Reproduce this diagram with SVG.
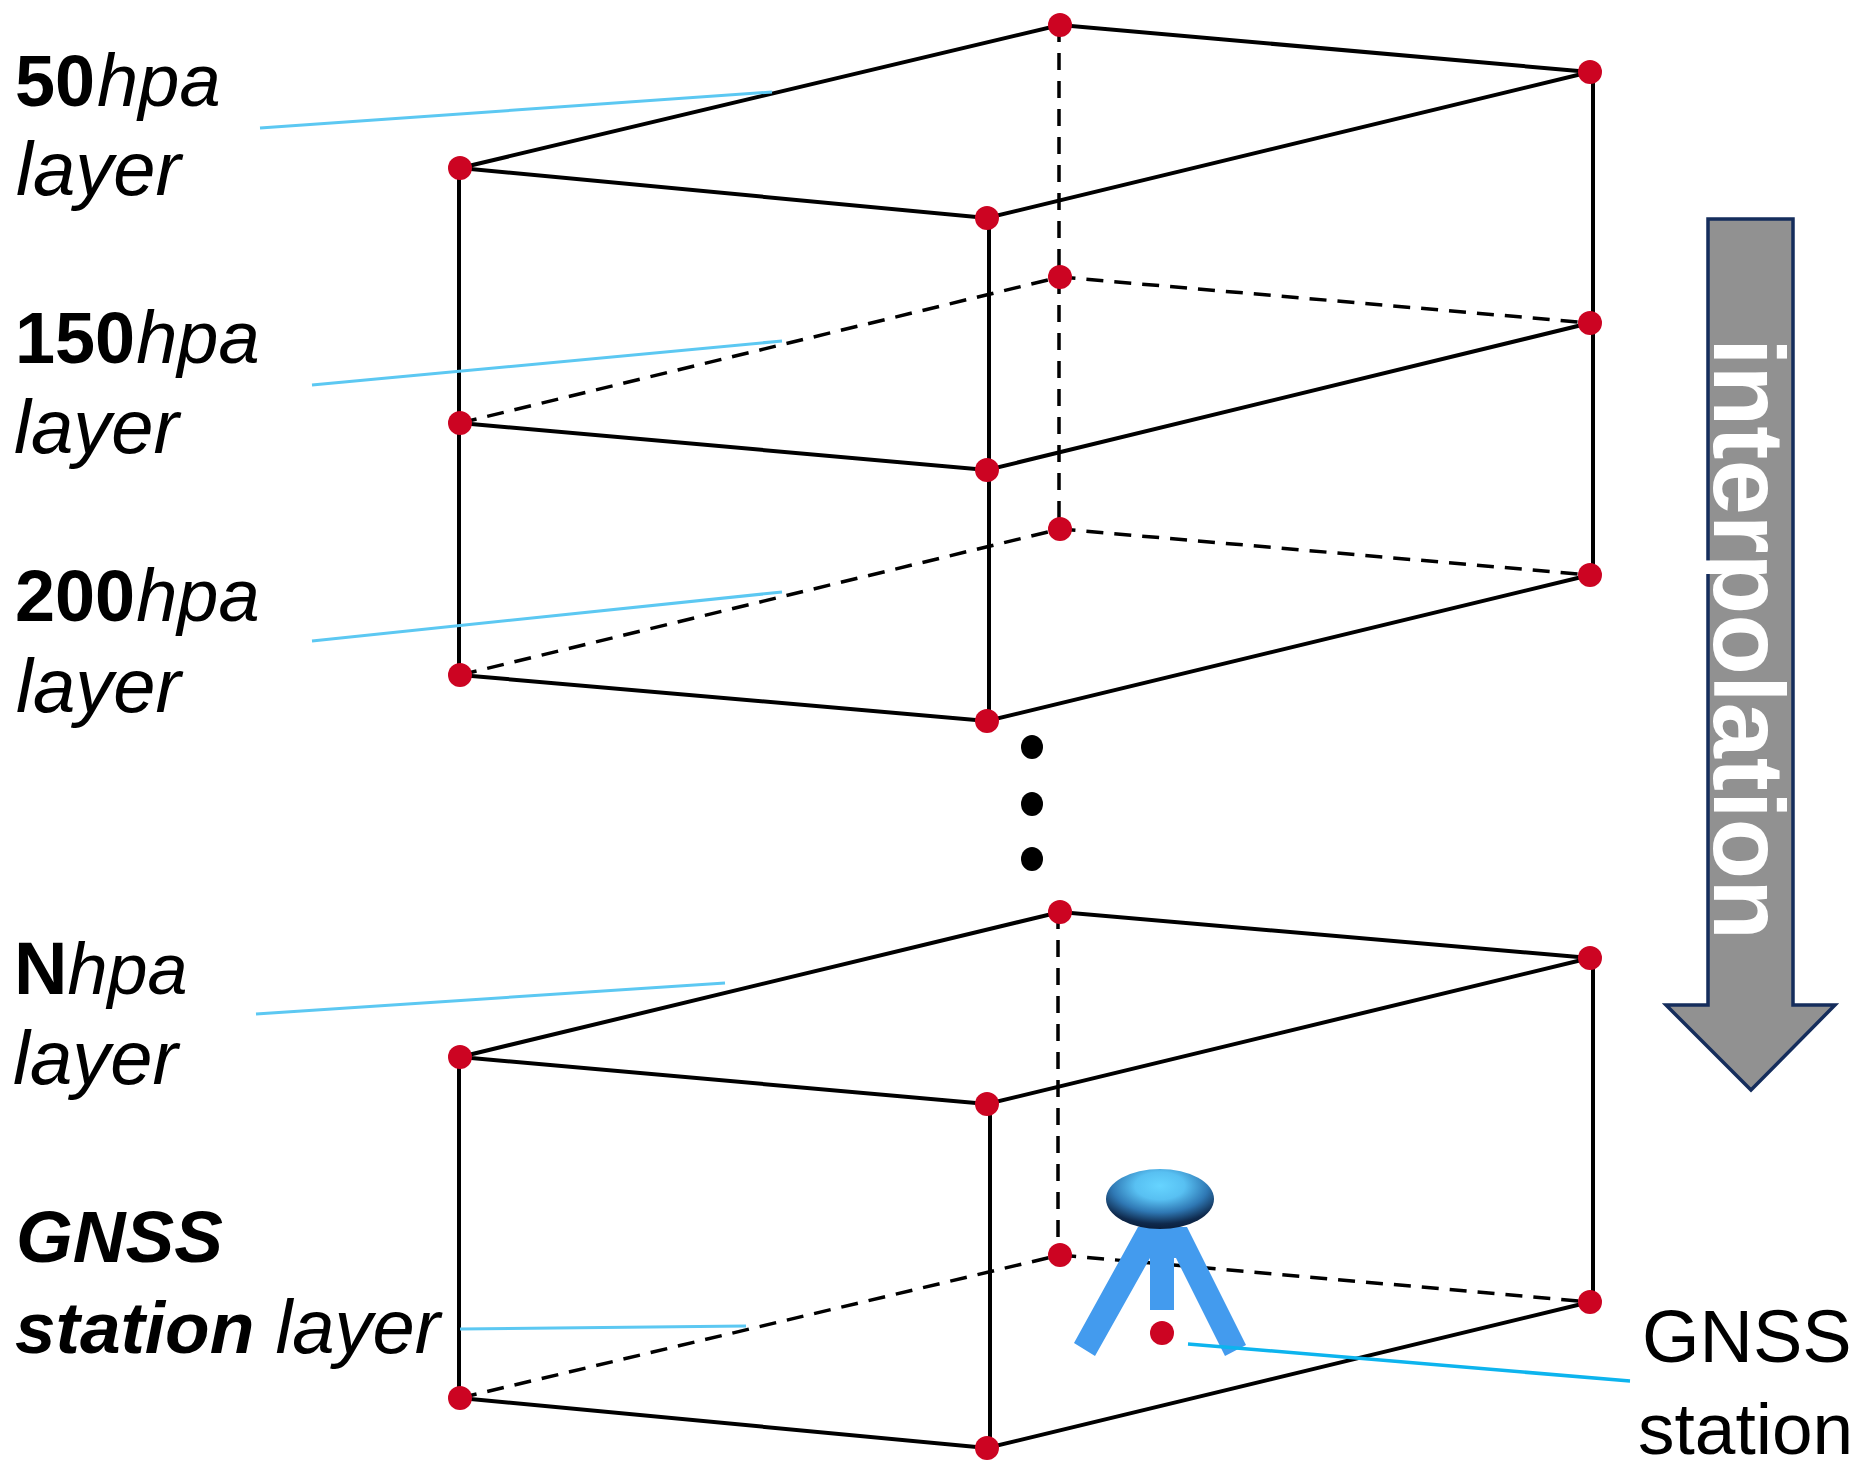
<svg xmlns="http://www.w3.org/2000/svg" width="1869" height="1474" viewBox="0 0 1869 1474">
<style>
.s{stroke:#000;stroke-width:4;fill:none}
.d{stroke:#000;stroke-width:3.5;fill:none;stroke-dasharray:17 11}
.c{stroke:#5cc8f2;stroke-width:3;fill:none}
.p{fill:#cc0422}
.k{fill:#000}
text{font-family:"Liberation Sans",Arial,sans-serif;fill:#000;font-size:74px}
.l{font-size:76px}
.b{font-weight:bold}
.i{font-style:italic}
</style>
<defs>
<radialGradient id="dome" cx="0.5" cy="0.28" r="0.72">
<stop offset="0" stop-color="#66d4ff"/><stop offset="0.32" stop-color="#58c0f2"/><stop offset="0.62" stop-color="#2f78b4"/><stop offset="0.88" stop-color="#0f2a4d"/><stop offset="1" stop-color="#0a1f3c"/>
</radialGradient>
</defs>
<rect width="1869" height="1474" fill="#fff"/>
<g id="connectors">
<path class="s" d="M460 168L987 218L1590 72L1060 25L460 168"/>
<path class="s" d="M459 168V675M459 1057V1398"/>
<path class="s" d="M989 218V721M990 1104V1448M1593 72V575M1593 958V1302"/>
<path class="s" d="M460 423L987 470L1590 323"/>
<path class="s" d="M460 675L987 721L1590 575"/>
<path class="s" d="M460 1057L987 1104L1590 958L1060 912L460 1057"/>
<path class="s" d="M460 1398L987 1448L1590 1302"/>
<path class="d" d="M1059 25V529M1058 912V1255"/>
<path class="d" d="M460 423L1060 277L1590 323"/>
<path class="d" d="M460 675L1060 529L1590 575"/>
<path class="d" d="M460 1398L1060 1255L1590 1302"/>
<path class="c" d="M260 128L772 92"/>
<path class="c" d="M312 385L782 341"/>
<path class="c" d="M312 641L782 592"/>
<path class="c" d="M256 1014L725 983"/>
<path class="c" d="M460 1329L746 1326"/>
</g>
<g id="layer-50">
<circle class="p" cx="460" cy="168" r="12"/><circle class="p" cx="987" cy="218" r="12"/><circle class="p" cx="1060" cy="25" r="12"/><circle class="p" cx="1590" cy="72" r="12"/>
<text x="15" y="106"><tspan class="b" style="font-size:72px">50</tspan><tspan class="i" dx="2">hpa</tspan></text>
<text class="i l" x="16" y="195">layer</text>
</g>
<g id="layer-150">
<circle class="p" cx="460" cy="423" r="12"/><circle class="p" cx="987" cy="470" r="12"/><circle class="p" cx="1060" cy="277" r="12"/><circle class="p" cx="1590" cy="323" r="12"/>
<text x="15" y="363"><tspan class="b" style="font-size:72px">150</tspan><tspan class="i" dx="1">hpa</tspan></text>
<text class="i l" x="14" y="453">layer</text>
</g>
<g id="layer-200">
<circle class="p" cx="460" cy="675" r="12"/><circle class="p" cx="987" cy="721" r="12"/><circle class="p" cx="1060" cy="529" r="12"/><circle class="p" cx="1590" cy="575" r="12"/>
<text x="15" y="621"><tspan class="b" style="font-size:72px">200</tspan><tspan class="i" dx="1">hpa</tspan></text>
<text class="i l" x="16" y="712">layer</text>
</g>
<g id="ellipsis">
<ellipse class="k" cx="1032" cy="747" rx="11" ry="12"/><ellipse class="k" cx="1032" cy="804" rx="11" ry="12"/><ellipse class="k" cx="1032" cy="859" rx="11" ry="12"/>
</g>
<g id="layer-n">
<circle class="p" cx="460" cy="1057" r="12"/><circle class="p" cx="987" cy="1104" r="12"/><circle class="p" cx="1060" cy="912" r="12"/><circle class="p" cx="1590" cy="958" r="12"/>
<text x="14" y="994"><tspan class="b">N</tspan><tspan class="i" style="font-size:72px">hpa</tspan></text>
<text class="i l" x="13" y="1084">layer</text>
</g>
<g id="layer-gnss">
<circle class="p" cx="460" cy="1398" r="12"/><circle class="p" cx="987" cy="1448" r="12"/><circle class="p" cx="1060" cy="1255" r="12"/><circle class="p" cx="1590" cy="1302" r="12"/>
<text class="b i" x="16" y="1262" style="font-size:73px">GNSS</text>
<text x="15" y="1353"><tspan class="b i" style="font-size:73px">station</tspan><tspan class="i" style="font-size:76px"> layer</tspan></text>
</g>
<g id="gnss-station">
<path fill="#439bee" d="M1138 1227H1187L1246 1345L1225 1356L1176 1258L1174 1258V1310H1150V1258L1095 1356L1074 1343Z"/>
<ellipse cx="1160" cy="1199" rx="54" ry="30" fill="url(#dome)"/>
<circle class="p" cx="1162" cy="1333" r="12"/>
<path d="M1188 1344L1630 1381" stroke="#0db4ee" stroke-width="3.5" fill="none"/>
<text x="1642" y="1362">GNSS</text>
<text x="1638" y="1454" style="font-size:73px">station</text>
</g>
<g id="interpolation-arrow">
<path d="M1708 219H1793V1005H1835L1751 1090L1666 1005H1708Z" fill="#919191" stroke="#152d5c" stroke-width="3.5"/>
<text class="b" transform="translate(1714 338) rotate(90)" style="fill:#fff;font-size:100px" textLength="602" lengthAdjust="spacingAndGlyphs">interpolation</text>
</g>
</svg>
